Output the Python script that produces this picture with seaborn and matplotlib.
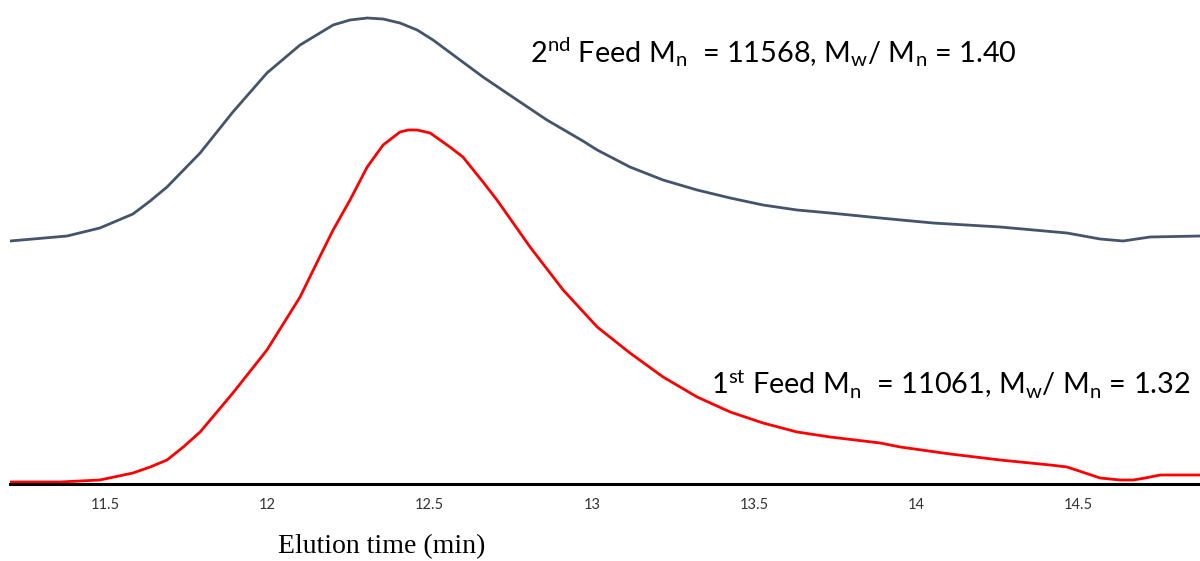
import matplotlib
matplotlib.use("Agg")
import matplotlib.pyplot as plt
import seaborn as sns
import pandas as pd

# ---- data ----
time_1st = [11.206, 11.360, 11.483, 11.585, 11.638, 11.690, 11.740, 11.792, 11.893, 11.998,
            12.100, 12.162, 12.202, 12.254, 12.307, 12.356, 12.408, 12.433, 12.461, 12.501,
            12.562, 12.602, 12.664, 12.707, 12.809, 12.911, 13.016, 13.117, 13.219, 13.324,
            13.426, 13.527, 13.632, 13.734, 13.888, 13.950, 14.104, 14.258, 14.412, 14.464,
            14.520, 14.566, 14.628, 14.668, 14.705, 14.751, 14.874]
signal_1st = [2, 2, 4, 11, 17, 24, 37, 52, 91, 134,
              187, 228, 254, 284, 317, 339, 352, 354, 354, 351,
              337, 327, 302, 284, 237, 194, 157, 131, 107, 87,
              72, 61, 52, 47, 41, 37, 30, 24, 19, 17,
              11, 6, 4, 4, 6, 9, 9]

time_2nd = [11.206, 11.277, 11.382, 11.483, 11.585, 11.638, 11.690, 11.792, 11.893, 11.998,
            12.100, 12.202, 12.254, 12.307, 12.356, 12.408, 12.461, 12.510, 12.664, 12.769,
            12.861, 12.972, 13.016, 13.117, 13.219, 13.324, 13.426, 13.527, 13.632, 13.734,
            13.888, 14.051, 14.258, 14.464, 14.566, 14.637, 14.720, 14.874]
signal_2nd = [243, 245, 248, 256, 270, 283, 297, 331, 372, 411,
              439, 459, 464, 466, 465, 461, 454, 444, 407, 384,
              364, 343, 334, 317, 304, 294, 286, 279, 274, 271,
              266, 261, 257, 251, 245, 243, 247, 248]

xticks = [11.5, 12, 12.5, 13, 13.5, 14, 14.5]
xtick_labels = ["11.5", "12", "12.5", "13", "13.5", "14", "14.5"]

label_2nd = r"2$^{\mathrm{nd}}$ Feed M$_{\mathrm{n}}$  = 11568, M$_{\mathrm{w}}$/ M$_{\mathrm{n}}$ = 1.40"
label_1st = r"1$^{\mathrm{st}}$ Feed M$_{\mathrm{n}}$  = 11061, M$_{\mathrm{w}}$/ M$_{\mathrm{n}}$ = 1.32"

df1 = pd.DataFrame({"time": time_1st, "signal": signal_1st})
df2 = pd.DataFrame({"time": time_2nd, "signal": signal_2nd})

sns.set_theme(style="white")
plt.rcParams["font.family"] = ["Lato", "DejaVu Sans"]
plt.rcParams["mathtext.fontset"] = "custom"
plt.rcParams["mathtext.rm"] = "Lato"
plt.rcParams["mathtext.it"] = "Lato:italic"
plt.rcParams["mathtext.bf"] = "Lato:bold"

fig = plt.figure(figsize=(12, 5.61), dpi=100)
ax = fig.add_axes([10 / 1200, 77 / 561, 1190 / 1200, 484 / 561])

sns.lineplot(data=df2, x="time", y="signal", ax=ax, color="#44546A", linewidth=2.0)
sns.lineplot(data=df1, x="time", y="signal", ax=ax, color="#FF0000", linewidth=2.0)
for ln in ax.lines:
    ln.set_solid_joinstyle("round")
    ln.set_solid_capstyle("round")

ax.set_xlim(11.206, 14.874)
ax.set_ylim(0, 484)
ax.set_yticks([])
ax.set_ylabel("")
ax.set_xticks(xticks)
ax.set_xticklabels(xtick_labels, fontsize=10.5, color="#333333")
ax.tick_params(axis="x", length=0, pad=10)
ax.set_xlabel("Elution time (min)", fontsize=20, family="Liberation Serif", color="black")
ax.xaxis.set_label_coords((382 - 10) / 1190, -0.104)

for side in ["top", "right", "left"]:
    ax.spines[side].set_visible(False)
ax.spines["bottom"].set_color("black")
ax.spines["bottom"].set_linewidth(2.2)

ax.text(12.809, 432, label_2nd, fontsize=20.8, color="black", ha="left", va="center")
ax.text(13.367, 101, label_1st, fontsize=20.8, color="black", ha="left", va="center")

fig.savefig("out.png", dpi=100)
